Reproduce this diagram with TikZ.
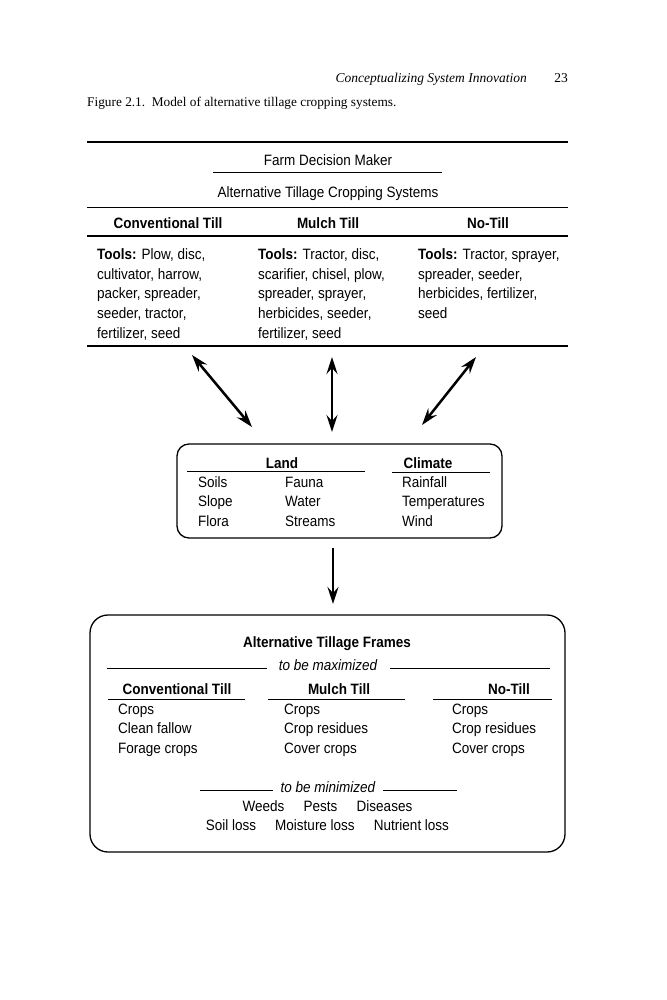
\documentclass[tikz,border=0pt]{standalone}
\usepackage{fontspec}
\setmainfont{Liberation Sans}[FakeStretch=0.9]
\newfontfamily\pageserif{Liberation Serif}
\usetikzlibrary{arrows.meta}
\begin{document}
\begin{tikzpicture}[x=1pt,y=-1pt,
  txt/.style={inner sep=0pt, font=\fontsize{15}{19.7}\selectfont},
  hd/.style={inner sep=0pt, font=\fontsize{15}{19.7}\selectfont\bfseries},
  itx/.style={inner sep=0pt, font=\fontsize{15}{19.7}\selectfont\itshape},
  thinrule/.style={line width=0.9pt},
  midrule/.style={line width=1.5pt},
  thickrule/.style={line width=2pt},
  tipS/.tip={Stealth[length=17pt,width=11pt,inset=6pt]},
  dblarrow/.style={line width=2.5pt, tipS-tipS},
  onearrow/.style={line width=2.5pt, -tipS},
  envbox/.style={draw, line width=1.3pt, rounded corners=12pt, inner sep=0pt},
  framebox/.style={draw, line width=1.3pt, rounded corners=18pt, inner sep=0pt}
]
\useasboundingbox (0,0) rectangle (666,1000);
\fill[white] (0,0) rectangle (666,1000);

% page header and caption
\node[inner sep=0pt, font=\pageserif\fontsize{13.5}{16}\selectfont\itshape, anchor=base east] (runhead) at (527,83) {Conceptualizing System Innovation};
\node[inner sep=0pt, font=\pageserif\fontsize{13.5}{16}\selectfont, anchor=base east] (pagenum) at (568,83) {23};
\node[inner sep=0pt, font=\pageserif\fontsize{13.3}{15}\selectfont, anchor=base west] (caption) at (87,107) {Figure 2.1.\ \ Model of alternative tillage cropping systems.};

% top table
\draw[thickrule] (87,142) -- (568,142);
\node[txt, anchor=base] (fdm) at (328,166) {Farm Decision Maker};
\draw[thinrule] (213,172) -- (442,172);
\node[txt, anchor=base] (atcs) at (328,198) {Alternative Tillage Cropping Systems};
\draw[thinrule] (87,207) -- (568,207);
\node[hd, anchor=base] (h1) at (168,229) {Conventional Till};
\node[hd, anchor=base] (h2) at (328,229) {Mulch Till};
\node[hd, anchor=base] (h3) at (488,229) {No-Till};
\draw[midrule] (87,236) -- (568,236);

\foreach \t [count=\i] in {{\textbf{Tools:} Plow, disc,},{cultivator, harrow,},{packer, spreader,},{seeder, tractor,},{fertilizer, seed}}
  \node[txt, anchor=base west] (ta\i) at (97,{259.5+(\i-1)*19.7}) {\t};
\foreach \t [count=\i] in {{\textbf{Tools:} Tractor, disc,},{scarifier, chisel, plow,},{spreader, sprayer,},{herbicides, seeder,},{fertilizer, seed}}
  \node[txt, anchor=base west] (tb\i) at (258,{259.5+(\i-1)*19.7}) {\t};
\foreach \t [count=\i] in {{\textbf{Tools:} Tractor, sprayer,},{spreader, seeder,},{herbicides, fertilizer,},{seed}}
  \node[txt, anchor=base west] (tc\i) at (418,{259.5+(\i-1)*19.7}) {\t};
\draw[midrule] (87,346) -- (568,346);

% double arrows
\coordinate (a1s) at (192,355);
\coordinate (a1e) at (252,427);
\coordinate (a2s) at (332,357);
\coordinate (a2e) at (332,432);
\coordinate (a3s) at (476,357);
\coordinate (a3e) at (422,425);
\draw[dblarrow] (a1s) -- (a1e);
\draw[dblarrow] (a2s) -- (a2e);
\draw[dblarrow] (a3s) -- (a3e);

% environment box
\node[envbox, minimum width=325pt, minimum height=94pt] (env) at (339.5,491) {};
\node[hd, anchor=base] (land) at (282,468) {Land};
\draw[thinrule] (187,471) -- (365,471);
\node[hd, anchor=base] (climate) at (428,468) {Climate};
\draw[thinrule] (392,472) -- (490,472);
\foreach \t [count=\i] in {Soils,Slope,Flora}
  \node[txt, anchor=base west] (la\i) at (198,{487+(\i-1)*19.5}) {\t};
\foreach \t [count=\i] in {Fauna,Water,Streams}
  \node[txt, anchor=base west] (lb\i) at (285,{487+(\i-1)*19.5}) {\t};
\foreach \t [count=\i] in {Rainfall,Temperatures,Wind}
  \node[txt, anchor=base west] (cl\i) at (402,{487+(\i-1)*19.5}) {\t};

% frames box
\node[framebox, minimum width=475pt, minimum height=237pt] (frames) at (327.5,733.5) {};
\coordinate (dstart) at (333,548);
\coordinate (dend) at (333,604);
\draw[onearrow] (dstart) -- (dend);

\node[hd, anchor=base] (atf) at (327,647) {Alternative Tillage Frames};
\node[itx, anchor=base] (maxi) at (328,670.5) {to be maximized};
\draw[thinrule] (107,668) -- (267,668);
\draw[thinrule] (390,668) -- (550,668);

\node[hd, anchor=base] (f1) at (177,694) {Conventional Till};
\node[hd, anchor=base] (f2) at (339,694) {Mulch Till};
\node[hd, anchor=base] (f3) at (509,694) {No-Till};
\draw[thinrule] (108,699) -- (245,699);
\draw[thinrule] (268,699) -- (405,699);
\draw[thinrule] (433,699) -- (552,699);

\foreach \t [count=\i] in {Crops,Clean fallow,Forage crops}
  \node[txt, anchor=base west] (fa\i) at (118,{714.5+(\i-1)*19.3}) {\t};
\foreach \t [count=\i] in {Crops,Crop residues,Cover crops}
  \node[txt, anchor=base west] (fb\i) at (284,{714.5+(\i-1)*19.3}) {\t};
\foreach \t [count=\i] in {Crops,Crop residues,Cover crops}
  \node[txt, anchor=base west] (fc\i) at (452,{714.5+(\i-1)*19.3}) {\t};

\node[itx, anchor=base] (mini) at (328,792) {to be minimized};
\draw[thinrule] (200,790) -- (273,790);
\draw[thinrule] (383,790) -- (457,790);

\node[txt, anchor=base] (weeds) at (263.5,811) {Weeds};
\node[txt, anchor=base] (pests) at (320.5,811) {Pests};
\node[txt, anchor=base] (dis) at (384.5,811) {Diseases};
\node[txt, anchor=base] (soil) at (231,830) {Soil loss};
\node[txt, anchor=base] (moist) at (315,830) {Moisture loss};
\node[txt, anchor=base] (nutr) at (411.5,830) {Nutrient loss};
\end{tikzpicture}
\end{document}
